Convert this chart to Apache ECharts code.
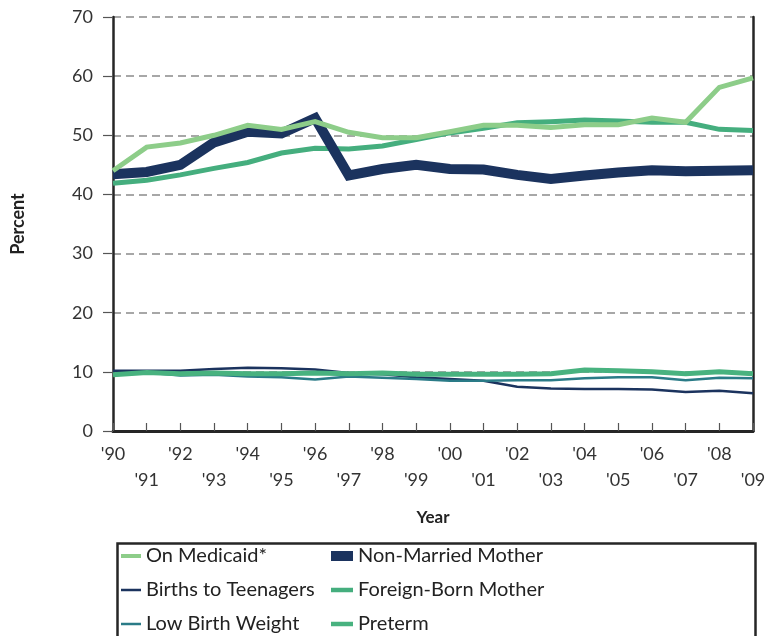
<!DOCTYPE html>
<html>
<head>
<meta charset="utf-8">
<style>
  html, body { margin: 0; padding: 0; background: #fff; }
  #chart { width: 781px; height: 636px; }
</style>
<script src="https://cdn.jsdelivr.net/npm/echarts@6/dist/echarts.min.js"></script>
</head>
<body>
<div id="chart"></div>
<script>
// Years on the category axis
const years = ["'90", "'91", "'92", "'93", "'94", "'95", "'96", "'97", "'98", "'99",
               "'00", "'01", "'02", "'03", "'04", "'05", "'06", "'07", "'08", "'09"];

// Percent of births, by characteristic
const onMedicaid   = [44.0, 48.0, 48.7, 50.0, 51.7, 51.0, 52.3, 50.5, 49.6, 49.6, 50.6, 51.7, 51.7, 51.3, 51.8, 51.8, 52.9, 52.2, 58.1, 59.7];
const nonMarried   = [43.4, 43.8, 45.0, 48.8, 50.6, 50.3, 52.9, 43.2, 44.3, 45.0, 44.3, 44.2, 43.3, 42.6, 43.2, 43.7, 44.1, 43.9, 44.0, 44.1];
const foreignBorn  = [41.9, 42.4, 43.3, 44.4, 45.4, 47.0, 47.8, 47.7, 48.2, 49.3, 50.4, 51.2, 52.1, 52.3, 52.6, 52.4, 52.2, 52.2, 51.0, 50.8];
const teenBirths   = [10.2, 10.2, 10.2, 10.5, 10.7, 10.6, 10.4, 9.8, 9.6, 9.1, 8.8, 8.5, 7.5, 7.2, 7.1, 7.1, 7.0, 6.6, 6.8, 6.4];
const lowBirthWt   = [9.6, 9.9, 9.4, 9.5, 9.2, 9.1, 8.7, 9.2, 9.0, 8.8, 8.5, 8.5, 8.6, 8.6, 8.9, 9.1, 9.1, 8.6, 9.0, 8.9];
const preterm      = [9.5, 9.9, 9.7, 9.8, 9.7, 9.7, 9.8, 9.7, 9.8, 9.6, 9.6, 9.6, 9.6, 9.7, 10.3, 10.2, 10.0, 9.7, 10.0, 9.7];

const FONT = 'Lato, "Open Sans", sans-serif';
const AXIS_DARK = '#262626';

function lineSeries(name, data, color, width) {
  return {
    name: name,
    type: 'line',
    data: data,
    symbol: 'none',
    smooth: false,
    lineStyle: { color: color, width: width, join: 'miter' },
    itemStyle: { color: color },
    xAxisIndex: 0,
    yAxisIndex: 0
  };
}

// Legend swatch: a bar whose thickness follows the series line width
function swatch(name, w, h) {
  return { name: name, icon: 'path://M0,0H' + w + 'V' + h + 'H0Z' };
}

const legendText = { fontFamily: FONT, fontSize: 20, lineHeight: 20, color: '#222' };

const chart = echarts.init(document.getElementById('chart'), null, { renderer: 'canvas' });

chart.setOption({
  animation: false,
  backgroundColor: '#ffffff',
  grid: { left: 113, right: 28, top: 17, bottom: 205, containLabel: false, outerBoundsMode: 'none' },
  xAxis: [
    {
      type: 'category',
      data: years,
      boundaryGap: false,
      name: 'Year',
      nameLocation: 'middle',
      nameGap: 78,
      nameTextStyle: { fontFamily: FONT, fontWeight: 'bold', fontSize: 17, color: '#222' },
      axisLine: { lineStyle: { color: AXIS_DARK, width: 3 } },
      axisTick: { show: true, inside: true, length: 8, interval: 0, lineStyle: { color: '#555', width: 1.2 } },
      axisLabel: {
        interval: 0,
        margin: 10,
        fontFamily: FONT,
        fontSize: 18,
        lineHeight: 26,
        color: '#333',
        formatter: function (v, i) { return i % 2 === 1 ? '\n' + v : v; }
      },
      splitLine: { show: false }
    },
    {
      // top border of the plot
      type: 'category',
      data: years,
      boundaryGap: false,
      position: 'top',
      axisLine: { show: true, lineStyle: { color: AXIS_DARK, width: 2.5 } },
      axisTick: { show: false },
      axisLabel: { show: false },
      splitLine: { show: false }
    }
  ],
  yAxis: [
    {
      type: 'value',
      min: 0,
      max: 70,
      interval: 10,
      name: 'Percent',
      nameLocation: 'middle',
      nameRotate: 90,
      nameGap: 86,
      nameTextStyle: { fontFamily: FONT, fontWeight: 'bold', fontSize: 18, color: '#222' },
      axisLine: { show: true, lineStyle: { color: AXIS_DARK, width: 2.5 } },
      axisTick: { show: true, inside: false, length: 10, lineStyle: { color: '#555', width: 1.2 } },
      axisLabel: { margin: 20, fontFamily: FONT, fontSize: 18, color: '#333' },
      splitLine: { show: true, lineStyle: { color: '#8a8a8a', width: 1.5, type: [8, 5] } }
    },
    {
      // right border of the plot
      type: 'value',
      min: 0,
      max: 70,
      interval: 10,
      position: 'right',
      axisLine: { show: true, lineStyle: { color: AXIS_DARK, width: 2.5 } },
      axisTick: { show: false },
      axisLabel: { show: false },
      splitLine: { show: false }
    }
  ],
  legend: [
    {
      orient: 'vertical',
      left: 121,
      top: 546,
      padding: 0,
      itemWidth: 20,
      itemHeight: 12,
      itemGap: 14,
      symbolKeepAspect: true,
      textStyle: legendText,
      data: [
        swatch('On Medicaid*', 20, 4),
        swatch('Births to Teenagers', 20, 2.5),
        swatch('Low Birth Weight', 20, 2.5)
      ]
    },
    {
      orient: 'vertical',
      left: 331,
      top: 546,
      padding: 0,
      itemWidth: 22,
      itemHeight: 12,
      itemGap: 14,
      symbolKeepAspect: true,
      textStyle: legendText,
      data: [
        swatch('Non-Married Mother', 22, 10),
        swatch('Foreign-Born Mother', 22, 4.5),
        swatch('Preterm', 22, 4.5)
      ]
    }
  ],
  graphic: [
    {
      type: 'rect',
      left: 115,
      top: 541,
      shape: { width: 638, height: 130 },
      style: { fill: 'none', stroke: '#262626', lineWidth: 2.5 },
      silent: true,
      z: 1
    }
  ],
  series: [
    lineSeries('Births to Teenagers', teenBirths, '#1b335e', 2.5),
    lineSeries('Low Birth Weight', lowBirthWt, '#2a7b87', 2.5),
    lineSeries('Preterm', preterm, '#48b27f', 5),
    lineSeries('Foreign-Born Mother', foreignBorn, '#45ae7e', 5),
    lineSeries('Non-Married Mother', nonMarried, '#1b335e', 10),
    lineSeries('On Medicaid*', onMedicaid, '#8dcd89', 5)
  ]
});
</script>
</body>
</html>
